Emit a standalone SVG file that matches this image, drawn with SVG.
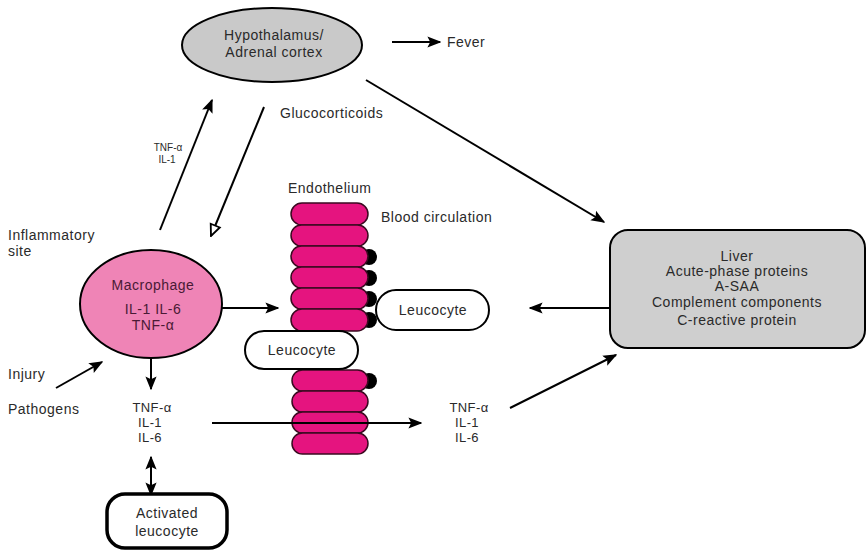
<svg xmlns="http://www.w3.org/2000/svg" width="868" height="551" viewBox="0 0 868 551">
<defs>
<style>
text{font-family:"Liberation Sans",Arial,sans-serif;font-size:14px;letter-spacing:0.5px;fill:#2a2a2a}
.c{text-anchor:middle}
.s{font-size:10px;letter-spacing:0}
.m{font-size:13px;letter-spacing:0.4px}
.cell{fill:#e5147f;stroke:#3a0a20;stroke-width:1.5}
.dot{fill:#000}
.ln{stroke:#000;stroke-width:2;fill:none}
.leu{fill:#fff;stroke:#000;stroke-width:2}
</style>
<marker id="ah" viewBox="0 0 10 10" refX="9" refY="5" markerWidth="7" markerHeight="7" orient="auto-start-reverse" markerUnits="strokeWidth"><path d="M0,1 L10,5 L0,9 L2,5 Z" fill="#000"/></marker>
<marker id="oh" viewBox="0 0 10 10" refX="9" refY="5" markerWidth="7" markerHeight="7" orient="auto" markerUnits="strokeWidth"><path d="M1,1.5 L9,5 L1,8.5 Z" fill="#fff" stroke="#000" stroke-width="1.3"/></marker>
</defs>
<rect width="868" height="551" fill="#fff"/>

<g id="connectors">
<line class="ln" x1="392" y1="42" x2="440" y2="42" marker-end="url(#ah)"/>
<line class="ln" x1="366" y1="80" x2="604" y2="222" marker-end="url(#ah)"/>
<line class="ln" x1="160" y1="230" x2="212" y2="100" marker-end="url(#ah)"/>
<line class="ln" x1="264" y1="107" x2="211" y2="236" marker-end="url(#oh)"/>
<line class="ln" x1="205" y1="308" x2="278" y2="308" marker-end="url(#ah)"/>
<line class="ln" x1="56" y1="388" x2="102" y2="362" marker-end="url(#ah)"/>
<line class="ln" x1="151" y1="352" x2="151" y2="389" marker-end="url(#ah)"/>
<line class="ln" x1="151" y1="457" x2="151" y2="495" marker-start="url(#ah)" marker-end="url(#ah)"/>
<line class="ln" x1="646" y1="308" x2="530" y2="308" marker-end="url(#ah)"/>
<line class="ln" x1="510" y1="408" x2="616" y2="355" marker-end="url(#ah)"/>
</g>

<g id="hypothalamus">
<ellipse cx="272" cy="45" rx="90" ry="37" fill="#c9c9c9" stroke="#000" stroke-width="2"/>
<text class="c" x="274" y="40">Hypothalamus/</text>
<text class="c" x="274" y="57">Adrenal cortex</text>
</g>
<g id="fever"><text x="447" y="47">Fever</text></g>
<g id="glucocorticoids"><text x="280" y="118">Glucocorticoids</text></g>
<g id="tnf-il1-label"><text class="c s" x="168" y="151">TNF-α</text><text class="c s" x="167" y="163">IL-1</text></g>
<g id="inflammatory-site"><text x="8" y="240">Inflammatory</text><text x="8" y="256">site</text></g>
<g id="injury"><text x="8" y="379">Injury</text></g>
<g id="pathogens"><text x="8" y="414">Pathogens</text></g>

<g id="macrophage">
<ellipse cx="151" cy="304" rx="71" ry="54" fill="#ef84b6" stroke="#000" stroke-width="2"/>
<text class="c" x="153" y="290" style="fill:#4a1a35">Macrophage</text>
<text class="c" x="153" y="314" style="fill:#4a1a35">IL-1 IL-6</text>
<text class="c" x="153" y="330" style="fill:#4a1a35">TNF-α</text>
</g>

<g id="cytokines-left">
<text class="c m" x="152" y="412">TNF-α</text>
<text class="c m" x="150" y="427">IL-1</text>
<text class="c m" x="150" y="442">IL-6</text>
</g>

<g id="endothelium">
<text x="288" y="193">Endothelium</text>
<circle class="dot" cx="369" cy="257" r="8"/>
<circle class="dot" cx="369" cy="278" r="8"/>
<circle class="dot" cx="369" cy="299" r="8"/>
<circle class="dot" cx="369" cy="320" r="8"/>
<circle class="dot" cx="369" cy="381" r="8"/>
<rect class="cell" x="291" y="203" width="77" height="22" rx="11"/>
<rect class="cell" x="291" y="225" width="77" height="21" rx="10.5"/>
<rect class="cell" x="291" y="246" width="77" height="21" rx="10.5"/>
<rect class="cell" x="291" y="267" width="77" height="21" rx="10.5"/>
<rect class="cell" x="291" y="288" width="77" height="21" rx="10.5"/>
<rect class="cell" x="291" y="309" width="77" height="22" rx="11"/>
<rect class="cell" x="292" y="370" width="76" height="21" rx="10.5"/>
<rect class="cell" x="292" y="391" width="76" height="21" rx="10.5"/>
<rect class="cell" x="292" y="412" width="76" height="21" rx="10.5"/>
<rect class="cell" x="292" y="433" width="76" height="21" rx="10.5"/>
</g>
<line class="ln" x1="212" y1="423" x2="421" y2="423" marker-end="url(#ah)"/>

<g id="blood-circulation"><text x="381" y="222">Blood circulation</text></g>

<g id="leucocyte-bottom">
<rect class="leu" x="245" y="331" width="113" height="38" rx="19"/>
<text class="c" x="302" y="355">Leucocyte</text>
</g>
<g id="leucocyte-right">
<rect class="leu" x="376" y="290" width="113" height="40" rx="20"/>
<text class="c" x="433" y="315">Leucocyte</text>
</g>

<g id="cytokines-right">
<text class="c m" x="469" y="412">TNF-α</text>
<text class="c m" x="467" y="427">IL-1</text>
<text class="c m" x="467" y="442">IL-6</text>
</g>

<g id="liver">
<rect x="610" y="230" width="255" height="118" rx="18" fill="#cfcfcf" stroke="#000" stroke-width="2"/>
<text class="c" x="737" y="261">Liver</text>
<text class="c" x="737" y="276">Acute-phase proteins</text>
<text class="c" x="737" y="291">A-SAA</text>
<text class="c" x="737" y="307">Complement components</text>
<text class="c" x="737" y="325">C-reactive protein</text>
</g>

<g id="activated-leucocyte">
<rect x="107" y="494" width="120" height="54" rx="18" fill="#fff" stroke="#000" stroke-width="3.5"/>
<text class="c" x="167" y="518">Activated</text>
<text class="c" x="167" y="536">leucocyte</text>
</g>
</svg>
